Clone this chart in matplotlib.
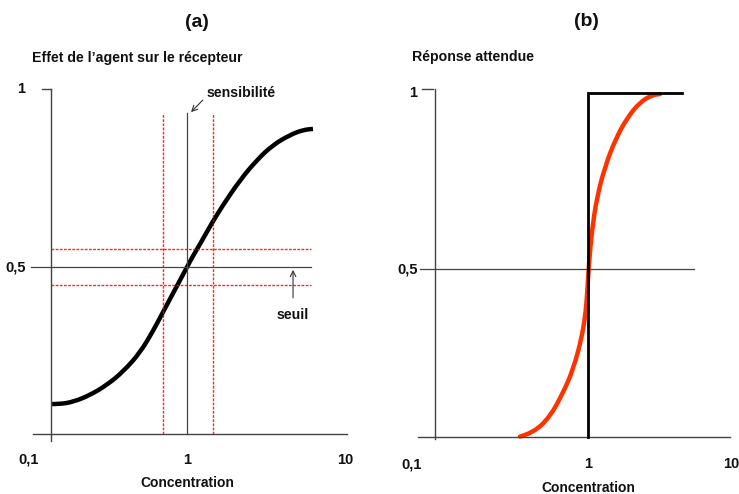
import numpy as np
import matplotlib
matplotlib.use('Agg')  # no display
import matplotlib.pyplot as plt
from matplotlib.path import Path
from matplotlib.patches import PathPatch

plt.rcParams['font.family'] = ['Liberation Sans', 'DejaVu Sans']

# ---- data ----
tick_x = [0.1, 1, 10]
tick_x_labels = ['0,1', '1', '10']
tick_y = [0.5, 1]
tick_y_labels = ['0,5', '1']

# (a) effect of the agent on the receptor (log concentration)
conc_a = [0.140, 0.157, 0.190, 0.243, 0.312, 0.394, 0.504, 0.609, 0.695, 0.780,
          0.865, 1.0, 1.091, 1.208, 1.439, 1.690, 2.165, 2.773, 3.501, 4.486,
          5.424, 6.27]
effect_a = [0.115, 0.115, 0.121, 0.140, 0.169, 0.206, 0.259, 0.320, 0.368, 0.410,
            0.447, 0.500, 0.531, 0.564, 0.624, 0.674, 0.744, 0.801, 0.843, 0.871,
            0.885, 0.888]
sensitivity = 1.0
sensitivity_band = [0.705, 1.46]
threshold = 0.5
threshold_band = [0.45, 0.55]

# (b) expected response
conc_b = [0.352, 0.430, 0.558, 0.681, 0.794, 0.912, 0.970, 0.990, 1.015, 1.063,
          1.148, 1.298, 1.514, 1.820, 2.222, 2.670, 3.020]
resp_b = [0.024, 0.034, 0.080, 0.148, 0.213, 0.307, 0.384, 0.440, 0.517, 0.611,
          0.705, 0.790, 0.866, 0.929, 0.974, 0.994, 0.997]
step_x = [1.0, 1.0, 4.23]
step_y = [0.022, 1.0, 1.0]

W, H = 739, 494
fig = plt.figure(figsize=(W / 100, H / 100), dpi=100)


def make_axes(px0, px1, one_px, decade, zero_py, unit):
    # axes spanning the full height between pixel columns px0..px1
    ax = fig.add_axes([px0 / W, 0, (px1 - px0) / W, 1])
    ax.set_xscale('log')
    ax.set_xlim(10 ** ((px0 - one_px) / decade), 10 ** ((px1 - one_px) / decade))
    ax.set_ylim((zero_py - H) / unit, zero_py / unit)
    ax.axis('off')
    return ax


def smooth_curve(ax, xs, ys, **kw):
    # quadratic Bezier through the read points (midpoints taken in log x)
    lx = np.log10(xs)
    verts = [(xs[0], ys[0])]
    codes = [Path.MOVETO]
    for i in range(1, len(xs) - 1):
        mx = 10 ** ((lx[i] + lx[i + 1]) / 2)
        my = (ys[i] + ys[i + 1]) / 2
        verts += [(xs[i], ys[i]), (mx, my)]
        codes += [Path.CURVE3, Path.CURVE3]
    verts.append((xs[-1], ys[-1]))
    codes.append(Path.LINETO)
    ax.add_patch(PathPatch(Path(verts, codes), fill=False, **kw))


AXC = '#444444'
RED_DOT = dict(color='#ff0000', lw=1.0, ls=(0, (2, 1)), alpha=0.85)
BOLD = dict(fontweight='bold', color='#111111')
ARROW = dict(arrowstyle='->', color='#333333', lw=0.8, shrinkA=0, shrinkB=0)

# ---------------- panel (a) ----------------
ax = make_axes(0, 370, 187, 158, 445, 356)
base_a = 0.031
ax.plot([0.106, 10.3], [base_a, base_a], color=AXC, lw=1.0)
ax.plot([0.138, 0.138], [0.011, 1.0], color=AXC, lw=1.0)
ax.plot([0.120, 0.138], [1.0, 1.0], color=AXC, lw=1.0)
ax.plot([0.103, 6.1], [threshold, threshold], color=AXC, lw=0.9)
for yv in threshold_band:
    ax.plot([0.138, 6.1], [yv, yv], **RED_DOT)
ax.plot([sensitivity, sensitivity], [base_a, 0.933], color=AXC, lw=0.9)
for xv in sensitivity_band:
    ax.plot([xv, xv], [base_a, 0.933], **RED_DOT)
smooth_curve(ax, conc_a, effect_a, edgecolor='black', lw=3.2, capstyle='butt')

ax.annotate('', xy=(1.06, 0.935), xytext=(1.26, 0.969), arrowprops=ARROW)
ax.text(1.33, 0.990, 'sensibilité', ha='left', va='center', fontsize=10.2, **BOLD)
ax.annotate('', xy=(4.69, 0.492), xytext=(4.69, 0.413), arrowprops=ARROW)
ax.text(4.69, 0.365, 'seuil', ha='center', va='center', fontsize=10.2, **BOLD)

for xv, lab in zip(tick_x, tick_x_labels):
    ax.text(xv, -0.042, lab, ha='center', va='center', fontsize=10.5, **BOLD)
for yv, lab in zip(tick_y, tick_y_labels):
    ax.text(0.095, yv, lab, ha='right', va='center', fontsize=10.5, **BOLD)
ax.text(1.0, -0.107, 'Concentration', ha='center', va='center', fontsize=10, **BOLD)
ax.text(1.15, 1.188, '(a)', ha='center', va='center', fontsize=14, **BOLD)
ax.text(0.104, 1.087, 'Effet de l\u2019agent sur le récepteur', ha='left',
        va='center', fontsize=10.2, **BOLD)

# ---------------- panel (b) ----------------
bx = make_axes(370, 739, 588, 150, 445, 352)
base_b = 0.022
bx.plot([0.0738, 8.83], [base_b, base_b], color=AXC, lw=1.0)
bx.plot([0.0955, 0.0955], [0.017, 1.011], color=AXC, lw=1.0)
bx.plot([0.0784, 0.0928], [1.011, 1.011], color=AXC, lw=1.0)
bx.plot([0.0758, 5.09], [threshold, threshold], color=AXC, lw=0.9)
bx.plot(step_x, step_y, color='black', lw=2.0, solid_joinstyle='miter')
smooth_curve(bx, conc_b, resp_b, edgecolor='#ff3300', lw=3.2, capstyle='round')

label_shift_b = [-26, 0, -7]  # pixel nudges of the x labels in (b)
for xv, lab, dx in zip(tick_x, tick_x_labels, label_shift_b):
    bx.annotate(lab, xy=(xv, -0.054), xytext=(dx * 0.72, 0), textcoords='offset points',
                ha='center', va='center', fontsize=10.5, **BOLD)
for yv, lab in zip(tick_y, tick_y_labels):
    bx.text(0.073, yv, lab, ha='right', va='center', fontsize=10.5, **BOLD)
bx.text(1.0, -0.122, 'Concentration', ha='center', va='center', fontsize=10, **BOLD)
bx.text(0.97, 1.202, '(b)', ha='center', va='center', fontsize=14, **BOLD)
bx.text(0.0675, 1.102, 'Réponse attendue', ha='left', va='center', fontsize=10.2, **BOLD)

fig.savefig('out.png', dpi=100)
